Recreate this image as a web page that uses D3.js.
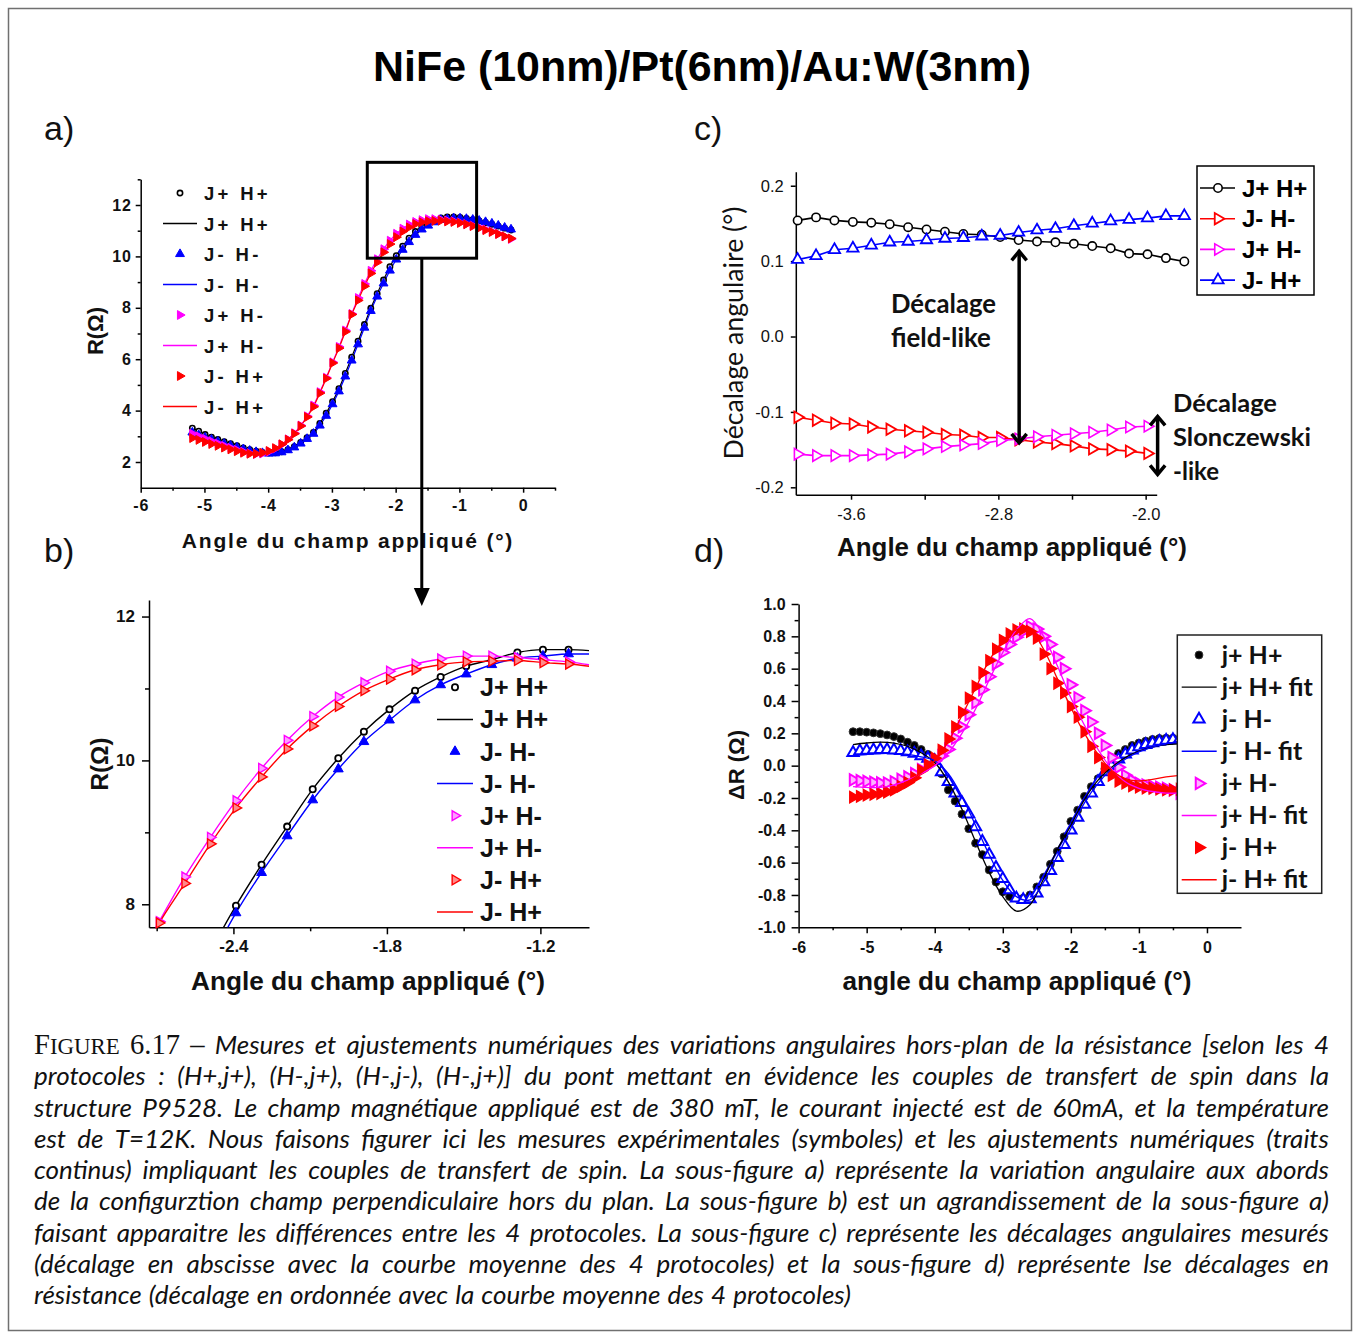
<!DOCTYPE html>
<html><head><meta charset="utf-8">
<script src="https://cdn.jsdelivr.net/npm/d3@7/dist/d3.min.js"></script>
<style>html,body{margin:0;padding:0;background:#fff;}svg{display:block;}</style>
</head><body>
<svg id="fig" width="1359" height="1335" xmlns="http://www.w3.org/2000/svg"></svg>
<script>
// ================= DATA =================
const titleText = "NiFe (10nm)/Pt(6nm)/Au:W(3nm)";
const panelLabels = ["a)", "b)", "c)", "d)"];
const xLabelABC = "Angle du champ appliqué (°)";
const xLabelD = "angle du champ appliqué (°)";
const yLabelAB = "R(Ω)";
const yLabelC = "Décalage angulaire (°)";
const yLabelD = "ΔR (Ω)";

// panels a) and b): resistance vs applied field angle
const seriesLabelsAB = ["J+ H+", "J- H-", "J+ H-", "J- H+"];
const anglesAB = [-5.19,-5.09,-4.99,-4.89,-4.79,-4.69,-4.59,-4.49,-4.39,-4.29,
  -4.19,-4.09,-3.99,-3.89,-3.79,-3.69,-3.59,-3.49,-3.39,-3.29,
  -3.19,-3.09,-2.99,-2.89,-2.79,-2.69,-2.59,-2.49,-2.39,-2.29,
  -2.19,-2.09,-1.99,-1.89,-1.79,-1.69,-1.59,-1.49,-1.39,-1.29,
  -1.19,-1.09,-0.99,-0.89,-0.79,-0.69,-0.59,-0.49,-0.39,-0.29,-0.19];
const rJpHp = [3.32,3.2,3.07,2.97,2.88,2.79,2.71,2.63,2.55,2.48,
  2.42,2.37,2.35,2.36,2.4,2.48,2.6,2.76,2.95,3.15,
  3.5,3.9,4.35,4.85,5.45,6.08,6.7,7.35,7.98,8.55,
  9.08,9.6,10.03,10.4,10.71,10.97,11.16,11.31,11.4,11.5,
  11.54,11.54,11.52,11.48,11.43,11.38,11.32,11.25,11.18,11.1,11.03];
const rJmHm = [3.15,3.05,2.95,2.87,2.79,2.71,2.64,2.57,2.5,2.44,
  2.39,2.35,2.33,2.34,2.38,2.46,2.57,2.72,2.9,3.1,
  3.42,3.8,4.25,4.75,5.33,5.95,6.58,7.23,7.88,8.44,
  8.95,9.45,9.88,10.26,10.56,10.84,11.05,11.2,11.33,11.42,
  11.45,11.48,11.48,11.46,11.43,11.39,11.34,11.28,11.2,11.12,11.05];
const rJpHm = [3.1,3.0,2.9,2.81,2.72,2.63,2.55,2.47,2.4,2.34,
  2.31,2.33,2.4,2.52,2.68,2.88,3.12,3.42,3.78,4.2,
  4.72,5.28,5.88,6.48,7.12,7.76,8.38,8.93,9.44,9.89,
  10.28,10.61,10.88,11.08,11.24,11.34,11.41,11.45,11.45,11.43,
  11.4,11.37,11.32,11.26,11.2,11.13,11.05,10.97,10.88,10.78,10.68];
const rJmHp = [2.93,2.86,2.78,2.7,2.63,2.56,2.49,2.42,2.36,2.32,
  2.32,2.36,2.43,2.54,2.69,2.87,3.1,3.4,3.75,4.15,
  4.68,5.25,5.85,6.43,7.07,7.74,8.29,8.84,9.34,9.77,
  10.16,10.48,10.75,10.97,11.13,11.26,11.33,11.37,11.38,11.39,
  11.36,11.34,11.3,11.25,11.18,11.1,11.02,10.95,10.87,10.78,10.7];

// panel c): angular shifts
const seriesLabelsC = ["J+ H+", "J- H-", "J+ H-", "J- H+"];
const anglesC = [-3.89,-3.79,-3.69,-3.59,-3.49,-3.39,-3.29,-3.19,-3.09,-2.99,
  -2.89,-2.79,-2.69,-2.59,-2.49,-2.39,-2.29,-2.19,-2.09,-1.99,-1.89,-1.79];
const shiftJpHp = [0.154,0.158,0.154,0.152,0.151,0.149,0.145,0.142,0.139,0.136,
  0.135,0.132,0.128,0.126,0.125,0.123,0.12,0.117,0.11,0.109,0.104,0.0995];
const shiftJmHm = [-0.107,-0.111,-0.115,-0.116,-0.12,-0.123,-0.125,-0.127,-0.13,-0.131,
  -0.134,-0.134,-0.137,-0.14,-0.142,-0.145,-0.149,-0.15,-0.152,-0.155];
const shiftJpHm = [-0.156,-0.158,-0.158,-0.158,-0.157,-0.156,-0.153,-0.149,-0.146,-0.144,
  -0.142,-0.138,-0.136,-0.133,-0.131,-0.129,-0.127,-0.124,-0.12,-0.119];
const shiftJmHp = [0.102,0.107,0.115,0.117,0.121,0.125,0.126,0.128,0.13,0.131,
  0.133,0.134,0.138,0.141,0.143,0.147,0.15,0.153,0.155,0.157,0.16,0.16];
const annotC1 = ["Décalage", "field-like"];
const annotC2 = ["Décalage", "Slonczewski", "-like"];

// panel d): resistance shifts (measurements + fits)
const seriesLabelsD = ["j+ H+", "j+ H+ fit", "j- H-", "j- H- fit", "j+ H-", "j+ H- fit", "j- H+", "j- H+ fit"];
const anglesD = [-5.2,-5.1,-5.0,-4.9,-4.8,-4.7,-4.6,-4.5,-4.4,-4.3,
  -4.2,-4.1,-4.0,-3.9,-3.8,-3.7,-3.6,-3.5,-3.4,-3.3,
  -3.2,-3.1,-3.0,-2.9,-2.8,-2.7,-2.6,-2.5,-2.4,-2.3,
  -2.2,-2.1,-2.0,-1.9,-1.8,-1.7,-1.6,-1.5,-1.4,-1.3,
  -1.2,-1.1,-1.0,-0.9,-0.8,-0.7,-0.6,-0.5,-0.4];
const dRJpHp = [0.21,0.21,0.207,0.203,0.198,0.19,0.18,0.165,0.145,0.125,
  0.1,0.07,0.036,-0.05,-0.15,-0.22,-0.3,-0.39,-0.48,-0.55,
  -0.645,-0.72,-0.78,-0.81,-0.82,-0.82,-0.8,-0.75,-0.69,-0.61,
  -0.53,-0.44,-0.345,-0.275,-0.19,-0.13,-0.08,-0.02,0.05,0.075,
  0.1,0.125,0.14,0.152,0.162,0.168,0.17,0.17,0.165];
const dRJmHm = [0.08,0.09,0.094,0.097,0.098,0.098,0.096,0.092,0.085,0.075,
  0.06,0.045,0.03,-0.04,-0.1,-0.17,-0.23,-0.3,-0.38,-0.47,
  -0.55,-0.63,-0.7,-0.77,-0.82,-0.83,-0.825,-0.79,-0.72,-0.65,
  -0.57,-0.49,-0.4,-0.32,-0.24,-0.17,-0.1,-0.04,0.0,0.04,
  0.07,0.095,0.115,0.13,0.14,0.15,0.155,0.16,0.165];
const dRJpHm = [-0.088,-0.093,-0.098,-0.103,-0.107,-0.108,-0.1,-0.085,-0.07,-0.05,
  -0.025,0.0,0.03,0.06,0.1,0.17,0.24,0.315,0.39,0.47,
  0.55,0.63,0.7,0.75,0.795,0.83,0.86,0.845,0.8,0.75,
  0.67,0.6,0.5,0.42,0.34,0.27,0.2,0.125,0.05,-0.01,
  -0.06,-0.09,-0.11,-0.12,-0.128,-0.134,-0.14,-0.15,-0.17];
const dRJmHp = [-0.195,-0.19,-0.182,-0.177,-0.172,-0.163,-0.15,-0.128,-0.105,-0.075,
  -0.03,0.005,0.046,0.095,0.165,0.24,0.33,0.418,0.49,0.575,
  0.65,0.72,0.775,0.815,0.84,0.845,0.83,0.79,0.69,0.6,
  0.51,0.45,0.366,0.3,0.21,0.12,0.05,-0.015,-0.06,-0.095,
  -0.108,-0.125,-0.132,-0.138,-0.14,-0.145,-0.15,-0.15,-0.146];
const anglesFit = [-5.2,-5.0,-4.8,-4.6,-4.4,-4.2,-4.0,-3.8,-3.6,-3.4,-3.2,-3.0,-2.8,
  -2.6,-2.4,-2.2,-2.0,-1.8,-1.6,-1.4,-1.2,-1.0,-0.8,-0.6,-0.4,-0.2];
const fitJpHp = [0.13,0.14,0.145,0.14,0.12,0.08,0.02,-0.1,-0.27,-0.47,-0.66,-0.81,-0.9,
  -0.86,-0.7,-0.52,-0.37,-0.21,-0.09,-0.01,0.05,0.09,0.115,0.13,0.135,0.14];
const fitJmHm = [0.06,0.07,0.075,0.075,0.07,0.055,0.03,-0.05,-0.19,-0.37,-0.55,-0.71,-0.81,
  -0.83,-0.72,-0.56,-0.39,-0.23,-0.11,-0.02,0.04,0.085,0.115,0.135,0.15,0.155];
const fitJpHm = [-0.13,-0.135,-0.135,-0.12,-0.09,-0.05,0.0,0.08,0.2,0.35,0.53,0.7,0.84,
  0.91,0.8,0.62,0.42,0.25,0.1,-0.02,-0.1,-0.14,-0.16,-0.17,-0.17,-0.17];
const fitJmHp = [-0.2,-0.19,-0.17,-0.14,-0.1,-0.045,0.03,0.15,0.31,0.48,0.65,0.77,0.84,
  0.84,0.72,0.54,0.36,0.2,0.07,-0.03,-0.08,-0.095,-0.085,-0.07,-0.06,-0.055];

// tick values
const ticksA_x = [-6,-5,-4,-3,-2,-1,0];
const ticksA_xMinor = [-5.5,-4.5,-3.5,-2.5,-1.5,-0.5,0.5];
const ticksA_y = [2,4,6,8,10,12];
const ticksA_yMinor = [3,5,7,9,11,13];
const ticksB_x = [-2.4,-1.8,-1.2];
const ticksB_xMinor = [-2.7,-2.1,-1.5];
const ticksB_y = [8,10,12];
const ticksB_yMinor = [9,11];
const ticksC_x = [-3.6,-2.8,-2.0];
const ticksC_xMinor = [-3.2,-2.4];
const ticksC_y = [-0.2,-0.1,0.0,0.1,0.2];
const ticksD_x = [-6,-5,-4,-3,-2,-1,0];
const ticksD_xMinor = [-5.5,-4.5,-3.5,-2.5,-1.5,-0.5];
const ticksD_y = [-1.0,-0.8,-0.6,-0.4,-0.2,0.0,0.2,0.4,0.6,0.8,1.0];
const ticksD_yMinor = [-0.9,-0.7,-0.5,-0.3,-0.1,0.1,0.3,0.5,0.7,0.9];

const captionLines = [
  "FIGURE 6.17 – Mesures et ajustements numériques des variations angulaires hors-plan de la résistance [selon les 4",
  "protocoles : (H+,j+), (H-,j+), (H-,j-), (H-,j+)] du pont mettant en évidence les couples de transfert de spin dans la",
  "structure P9528. Le champ magnétique appliqué est de 380 mT, le courant injecté est de 60mA, et la température",
  "est de T=12K. Nous faisons figurer ici les mesures expérimentales (symboles) et les ajustements numériques (traits",
  "continus) impliquant les couples de transfert de spin. La sous-figure a) représente la variation angulaire aux abords",
  "de la configurztion champ perpendiculaire hors du plan. La sous-figure b) est un agrandissement de la sous-figure a)",
  "faisant apparaitre les différences entre les 4 protocoles. La sous-figure c) représente les décalages angulaires mesurés",
  "(décalage en abscisse avec la courbe moyenne des 4 protocoles) et la sous-figure d) représente lse décalages en",
  "résistance (décalage en ordonnée avec la courbe moyenne des 4 protocoles)"
];

// ================= DRAWING =================
const SANS = "'Liberation Sans', Arial, Helvetica, sans-serif";
const CAL = "Lato, 'Open Sans', sans-serif";
const SERIF = "'Liberation Serif', 'Times New Roman', serif";
const BLACK = "#000000", BLUE = "#0000ff", MAGENTA = "#ff00ff", RED = "#ff0000";

const svg = d3.select('#fig');
svg.append('rect').attr('width', 1359).attr('height', 1335).attr('fill', '#fff');
svg.append('rect').attr('x', 8.5).attr('y', 8.5).attr('width', 1343).attr('height', 1322)
  .attr('fill', 'none').attr('stroke', '#707070').attr('stroke-width', 1.5);

function fitWidth(sel, w) {
  const cur = sel.node().getComputedTextLength();
  if (cur > 0) sel.attr('font-size', (+sel.attr('font-size')) * w / cur);
  return sel;
}
function txt(g, x, y, s, o) {
  const t = g.append('text').attr('x', x).attr('y', y).text(s)
    .attr('font-family', o.ff || SANS).attr('font-size', o.fs || 16)
    .attr('font-weight', o.fw || 'normal').attr('fill', o.fill || '#000')
    .attr('text-anchor', o.anchor || 'start');
  if (o.ls) t.attr('letter-spacing', o.ls);
  if (o.rot) t.attr('transform', `rotate(-90,${x},${y})`);
  if (o.width) fitWidth(t, o.width);
  return t;
}

function axes(g, x, y, o) {
  const yb = y.range()[0], xl = x.range()[0];
  const style = s => {
    s.attr('font-family', o.ff).attr('font-size', o.fs).attr('font-weight', o.fw);
    if (o.ls) s.attr('letter-spacing', o.ls);
    s.select('.domain').attr('stroke', '#000').attr('stroke-width', 1.5);
    s.selectAll('.tick line').attr('stroke', '#000').attr('stroke-width', 1.5);
    s.selectAll('.tick text').attr('fill', o.col || '#000');
  };
  const gx = g.append('g').attr('transform', `translate(0,${yb})`)
    .call(d3.axisBottom(x).tickValues(o.xMajor).tickFormat(o.fx).tickSize(o.xBig).tickSizeOuter(0).tickPadding(o.padX));
  style(gx);
  if (o.xMinor) {
    const m = g.append('g').attr('transform', `translate(0,${yb})`)
      .call(d3.axisBottom(x).tickValues(o.xMinor).tickFormat(() => '').tickSize(o.xSmall).tickSizeOuter(0));
    style(m); m.select('.domain').remove();
  }
  const gy = g.append('g').attr('transform', `translate(${xl},0)`)
    .call(d3.axisLeft(y).tickValues(o.yMajor).tickFormat(o.fy).tickSize(o.yBig).tickSizeOuter(0).tickPadding(o.padY));
  style(gy);
  if (o.yMinor) {
    const m = g.append('g').attr('transform', `translate(${xl},0)`)
      .call(d3.axisLeft(y).tickValues(o.yMinor).tickFormat(() => '').tickSize(o.ySmall).tickSizeOuter(0));
    style(m); m.select('.domain').remove();
  }
}

function symPath(shape, size) {
  return d3.symbol().type(shape === 'circle' ? d3.symbolCircle : d3.symbolTriangle).size(size)();
}
function markers(g, xs, ys, x, y, st, filter) {
  let pts = d3.zip(xs, ys);
  if (filter) pts = pts.filter(filter);
  g.append('g').selectAll('path').data(pts).join('path')
    .attr('d', symPath(st.shape, st.size))
    .attr('transform', d => `translate(${x(d[0])},${y(d[1])})${st.shape === 'triR' ? ' rotate(90)' : ''}`)
    .attr('fill', st.fill).attr('stroke', st.stroke).attr('stroke-width', st.sw);
}
function curve(g, xs, ys, x, y, color, w, curveType) {
  g.append('path').datum(d3.zip(xs, ys))
    .attr('d', d3.line().x(d => x(d[0])).y(d => y(d[1])).curve(curveType || d3.curveLinear))
    .attr('fill', 'none').attr('stroke', color).attr('stroke-width', w);
}
function marker1(g, cx, cy, st) {
  g.append('path').attr('d', symPath(st.shape, st.size))
    .attr('transform', `translate(${cx},${cy})${st.shape === 'triR' ? ' rotate(90)' : ''}`)
    .attr('fill', st.fill).attr('stroke', st.stroke).attr('stroke-width', st.sw);
}

// ---- Title & panel labels ----
txt(svg, 702, 81, titleText, {fs: 42, fw: 'bold', anchor: 'middle', width: 658});
const plPos = [[44, 140], [44, 562], [694, 140], [694, 562]];
panelLabels.forEach((s, i) => txt(svg, plPos[i][0], plPos[i][1], s, {fs: 34, fill: '#111'}));

// ================= PANEL A =================
const gA = svg.append('g');
const xA = d3.scaleLinear().domain([-6, 0.5]).range([140.7, 555]);
const yA = d3.scaleLinear().domain([1, 13]).range([487.7, 179.3]);
const seriesAB = [
  {ys: rJpHp, color: BLACK, mA: {shape: 'circle', size: 22, fill: '#fff', stroke: BLACK, sw: 1.6}, mB: {shape: 'circle', size: 30, fill: '#fff', stroke: BLACK, sw: 1.8}},
  {ys: rJmHm, color: BLUE, mA: {shape: 'triUp', size: 34, fill: BLUE, stroke: BLUE, sw: 1}, mB: {shape: 'triUp', size: 42, fill: BLUE, stroke: BLUE, sw: 1}},
  {ys: rJpHm, color: MAGENTA, mA: {shape: 'triR', size: 34, fill: MAGENTA, stroke: MAGENTA, sw: 1}, mB: {shape: 'triR', size: 42, fill: '#ff9cff', stroke: MAGENTA, sw: 1.4}},
  {ys: rJmHp, color: RED, mA: {shape: 'triR', size: 34, fill: RED, stroke: RED, sw: 1}, mB: {shape: 'triR', size: 42, fill: '#ff8a8a', stroke: RED, sw: 1.4}}
];
axes(gA, xA, yA, {ff: SANS, fs: 16, fw: 'bold', ls: 0.8, col: '#111',
  xMajor: ticksA_x, xMinor: ticksA_xMinor, yMajor: ticksA_y, yMinor: ticksA_yMinor,
  fx: d => d.toFixed(0), fy: d => d.toFixed(0), xBig: 5, xSmall: 3, yBig: 5, ySmall: 3, padX: 7, padY: 4});
seriesAB.forEach(s => curve(gA, anglesAB, s.ys, xA, yA, s.color, 1.2, d3.curveMonotoneX));
seriesAB.forEach(s => markers(gA, anglesAB, s.ys, xA, yA, s.mA));
// legend a
seriesLabelsAB.forEach((lab, i) => {
  const cyM = 193 + (2 * i) * 30.5, cyL = 193 + (2 * i + 1) * 30.5;
  const s = seriesAB[i];
  marker1(gA, 180, cyM, s.mA);
  gA.append('line').attr('x1', 163).attr('x2', 197).attr('y1', cyL).attr('y2', cyL).attr('stroke', s.color).attr('stroke-width', 1.3);
  txt(gA, 204, cyM + 7, lab, {fs: 18.5, fw: 'bold', ls: 3.3, fill: '#111'});
  txt(gA, 204, cyL + 7, lab, {fs: 18.5, fw: 'bold', ls: 3.3, fill: '#111'});
});
txt(gA, 348, 548, xLabelABC, {fs: 21, fw: 'bold', ls: 1.8, anchor: 'middle', fill: '#111'});
txt(gA, 103, 331, yLabelAB, {fs: 22, fw: 'bold', anchor: 'middle', rot: true, fill: '#111'});
// zoom box + arrow
const boxX0 = xA(-2.445), boxX1 = xA(-0.73), boxY0 = yA(13.66), boxY1 = yA(9.93);
gA.append('rect').attr('x', boxX0).attr('y', boxY0).attr('width', boxX1 - boxX0).attr('height', boxY1 - boxY0)
  .attr('fill', 'none').attr('stroke', '#000').attr('stroke-width', 3);
const arX = xA(-1.59);
gA.append('line').attr('x1', arX).attr('x2', arX).attr('y1', boxY1).attr('y2', 592).attr('stroke', '#000').attr('stroke-width', 3);
gA.append('path').attr('d', `M${arX - 8},588 L${arX + 8},588 L${arX},606 Z`).attr('fill', '#000');

// ================= PANEL B =================
const gB = svg.append('g');
const xB = d3.scaleLinear().domain([-2.73, -1.01]).range([149, 589]);
const yB = d3.scaleLinear().domain([7.68, 12.23]).range([927.3, 600]);
svg.append('clipPath').attr('id', 'clipB').append('rect').attr('x', 149).attr('y', 600).attr('width', 440).attr('height', 327.3);
axes(gB, xB, yB, {ff: SANS, fs: 17, fw: 'bold', col: '#111',
  xMajor: ticksB_x, xMinor: ticksB_xMinor, yMajor: ticksB_y, yMinor: ticksB_yMinor,
  fx: d => d.toFixed(1), fy: d => d.toFixed(0), xBig: 7, xSmall: 4, yBig: 7, ySmall: 4, padX: 5.5, padY: 7});
const gBc = gB.append('g').attr('clip-path', 'url(#clipB)');
seriesAB.forEach(s => curve(gBc, anglesAB, s.ys, xB, yB, s.color, 1.4, d3.curveMonotoneX));
const inB = d => d[0] >= -2.73 && d[0] <= -1.01 && d[1] >= 7.68 && d[1] <= 12.23;
seriesAB.forEach(s => markers(gB, anglesAB, s.ys, xB, yB, s.mB, inB));
seriesLabelsAB.forEach((lab, i) => {
  const cyM = 687.3 + (2 * i) * 32.1, cyL = 687.3 + (2 * i + 1) * 32.1;
  const s = seriesAB[i];
  marker1(gB, 455, cyM, s.mB);
  gB.append('line').attr('x1', 437).attr('x2', 473).attr('y1', cyL).attr('y2', cyL).attr('stroke', s.color).attr('stroke-width', 1.5);
  txt(gB, 480, cyM + 9, lab, {fs: 25, fw: 'bold', fill: '#111'});
  txt(gB, 480, cyL + 9, lab, {fs: 25, fw: 'bold', fill: '#111'});
});
txt(gB, 368, 990, xLabelABC, {fs: 25, fw: 'bold', anchor: 'middle', width: 354, fill: '#111'});
txt(gB, 108, 764, yLabelAB, {fs: 25, fw: 'bold', anchor: 'middle', rot: true, width: 53, fill: '#111'});

// ================= PANEL C =================
const gC = svg.append('g');
const xC = d3.scaleLinear().domain([-3.9, -1.94]).range([795.8, 1156.7]);
const yC = d3.scaleLinear().domain([-0.2098, 0.2186]).range([494.7, 171.7]);
axes(gC, xC, yC, {ff: SANS, fs: 16.5, fw: 'normal', col: '#111',
  xMajor: ticksC_x, xMinor: ticksC_xMinor, yMajor: ticksC_y, yMinor: null,
  fx: d => d.toFixed(1), fy: d => d.toFixed(1), xBig: 5, xSmall: 5, yBig: 5, ySmall: 3, padX: 9, padY: 7});
const seriesC = [
  {ys: shiftJpHp, color: BLACK, m: {shape: 'circle', size: 55, fill: '#fff', stroke: BLACK, sw: 1.6}},
  {ys: shiftJmHm, color: RED, m: {shape: 'triR', size: 55, fill: '#fff', stroke: RED, sw: 1.8}},
  {ys: shiftJpHm, color: MAGENTA, m: {shape: 'triR', size: 55, fill: '#fff', stroke: MAGENTA, sw: 1.6}},
  {ys: shiftJmHp, color: BLUE, m: {shape: 'triUp', size: 55, fill: '#fff', stroke: BLUE, sw: 1.8}}
];
seriesC.forEach(s => {
  const xs = anglesC.slice(0, s.ys.length);
  curve(gC, xs, s.ys, xC, yC, s.color, 1.6);
  markers(gC, xs, s.ys, xC, yC, s.m);
});
// legend c
gC.append('rect').attr('x', 1197).attr('y', 166).attr('width', 117).attr('height', 129)
  .attr('fill', '#fff').attr('stroke', '#000').attr('stroke-width', 1.5);
seriesLabelsC.forEach((lab, i) => {
  const cy = 188 + i * 30.7, s = seriesC[i];
  gC.append('line').attr('x1', 1200).attr('x2', 1235).attr('y1', cy).attr('y2', cy).attr('stroke', s.color).attr('stroke-width', 1.6);
  marker1(gC, 1218, cy, s.m);
  txt(gC, 1242, cy + 8.5, lab, {fs: 24, fw: 'bold', fill: '#000'});
});
// annotations c
txt(gC, 891, 313, annotC1[0], {ff: CAL, fs: 24, fw: 'bold', width: 105, fill: '#111'});
txt(gC, 891, 347, annotC1[1], {ff: CAL, fs: 24, fw: 'bold', width: 100, fill: '#111'});
txt(gC, 1173, 412, annotC2[0], {ff: CAL, fs: 24, fw: 'bold', width: 104, fill: '#111'});
txt(gC, 1173, 446, annotC2[1], {ff: CAL, fs: 24, fw: 'bold', width: 138, fill: '#111'});
txt(gC, 1173, 480, annotC2[2], {ff: CAL, fs: 24, fw: 'bold', width: 46, fill: '#111'});
function dblArrow(g, x, y0, y1, hw, hh, w) {
  g.append('line').attr('x1', x).attr('x2', x).attr('y1', y0 + 1).attr('y2', y1 - 1).attr('stroke', '#000').attr('stroke-width', w);
  g.append('path').attr('d', `M${x - hw},${y0 + hh} L${x},${y0} L${x + hw},${y0 + hh}`).attr('fill', 'none').attr('stroke', '#000').attr('stroke-width', w).attr('stroke-linejoin', 'miter');
  g.append('path').attr('d', `M${x - hw},${y1 - hh} L${x},${y1} L${x + hw},${y1 - hh}`).attr('fill', 'none').attr('stroke', '#000').attr('stroke-width', w).attr('stroke-linejoin', 'miter');
}
dblArrow(gC, xC(-2.687), yC(0.113), yC(-0.141), 7.5, 9, 3.5);
dblArrow(gC, xC(-1.935), yC(-0.106), yC(-0.183), 7.5, 9, 3.5);
txt(gC, 1012, 556, xLabelABC, {fs: 25, fw: 'bold', anchor: 'middle', width: 350, fill: '#111'});
txt(gC, 743, 333, yLabelC, {ff: CAL, fs: 23, fw: 'normal', anchor: 'middle', rot: true, width: 253, fill: '#111'});

// ================= PANEL D =================
const gD = svg.append('g');
const xD = d3.scaleLinear().domain([-6, 0.5]).range([798.6, 1241]);
const yD = d3.scaleLinear().domain([-1, 1]).range([927.3, 604]);
axes(gD, xD, yD, {ff: SANS, fs: 16, fw: 'bold', col: '#111',
  xMajor: ticksD_x, xMinor: ticksD_xMinor, yMajor: ticksD_y, yMinor: ticksD_yMinor,
  fx: d => d.toFixed(0), fy: d => d.toFixed(1), xBig: 6, xSmall: 3, yBig: 7, ySmall: 4, padX: 8, padY: 6});
const seriesD = [
  {ys: dRJpHp, fit: fitJpHp, color: BLACK, m: {shape: 'circle', size: 48, fill: '#000', stroke: '#333', sw: 1}},
  {ys: dRJmHm, fit: fitJmHm, color: BLUE, m: {shape: 'triUp', size: 55, fill: '#fff', stroke: BLUE, sw: 2}},
  {ys: dRJpHm, fit: fitJpHm, color: MAGENTA, m: {shape: 'triR', size: 55, fill: '#ffb3ff', stroke: MAGENTA, sw: 2}},
  {ys: dRJmHp, fit: fitJmHp, color: RED, m: {shape: 'triR', size: 55, fill: RED, stroke: RED, sw: 1.5}}
];
seriesD.forEach(s => markers(gD, anglesD, s.ys, xD, yD, s.m));
seriesD.forEach(s => curve(gD, anglesFit, s.fit, xD, yD, s.color, 1.3, d3.curveCatmullRom));
// legend d
gD.append('rect').attr('x', 1177.3).attr('y', 635).attr('width', 144.4).attr('height', 258.3)
  .attr('fill', '#fff').attr('stroke', '#222').attr('stroke-width', 1.5);
seriesLabelsD.forEach((lab, i) => {
  const cy = 655 + i * 32.1, s = seriesD[Math.floor(i / 2)];
  if (i % 2 === 0) marker1(gD, 1199, cy, s.m);
  else gD.append('line').attr('x1', 1181.7).attr('x2', 1216.7).attr('y1', cy).attr('y2', cy).attr('stroke', s.color).attr('stroke-width', 1.4);
  txt(gD, 1221.7, cy + 8.5, lab, {ff: CAL, fs: 25, fw: 'bold', fill: '#111'});
});
txt(gD, 1017, 990, xLabelD, {fs: 25, fw: 'bold', anchor: 'middle', width: 349, fill: '#111'});
txt(gD, 744, 765, yLabelD, {fs: 20, fw: 'bold', anchor: 'middle', rot: true, width: 70, fill: '#111'});

// ================= CAPTION =================
const capG = svg.append('g');
const capLeft = 34, capRight = 1329, capBase = 1054, capLead = 31.25;
const CAPF = "Lato, 'Open Sans', sans-serif";
function buildLine(line, li, fs) {
  const toks = line.split(' ');
  return toks.map((t, ti) => {
    const el = capG.append('text').attr('y', capBase + li * capLead).attr('fill', '#111');
    if (li === 0 && ti < 3) {
      el.attr('font-family', SERIF).attr('font-size', fs * 1.1);
      if (t === 'FIGURE') {
        el.append('tspan').text('F');
        el.append('tspan').attr('font-size', fs * 0.88).text('IGURE');
      } else el.text(t);
    } else {
      el.attr('font-family', CAPF).attr('font-style', 'italic').attr('font-size', fs).text(t);
    }
    return el;
  });
}
// calibrate font size: largest size where every justified line keeps a minimum word gap
const fs0 = 24;
const scales = [];
captionLines.slice(0, -1).forEach((line, li) => {
  const nodes = buildLine(line, li, fs0);
  const sum = d3.sum(nodes, n => n.node().getComputedTextLength());
  scales.push((capRight - capLeft) / (sum + (nodes.length - 1) * fs0 * 0.22));
  nodes.forEach(n => n.remove());
});
const capFs = Math.min(26, fs0 * d3.min(scales));
captionLines.forEach((line, li) => {
  const nodes = buildLine(line, li, capFs);
  const ws = nodes.map(n => n.node().getComputedTextLength());
  const sum = d3.sum(ws);
  const last = li === captionLines.length - 1;
  const gap = last ? capFs * 0.27 : (capRight - capLeft - sum) / (nodes.length - 1);
  let x = capLeft;
  nodes.forEach((n, i) => { n.attr('x', x); x += ws[i] + gap; });
});
</script></body></html>
